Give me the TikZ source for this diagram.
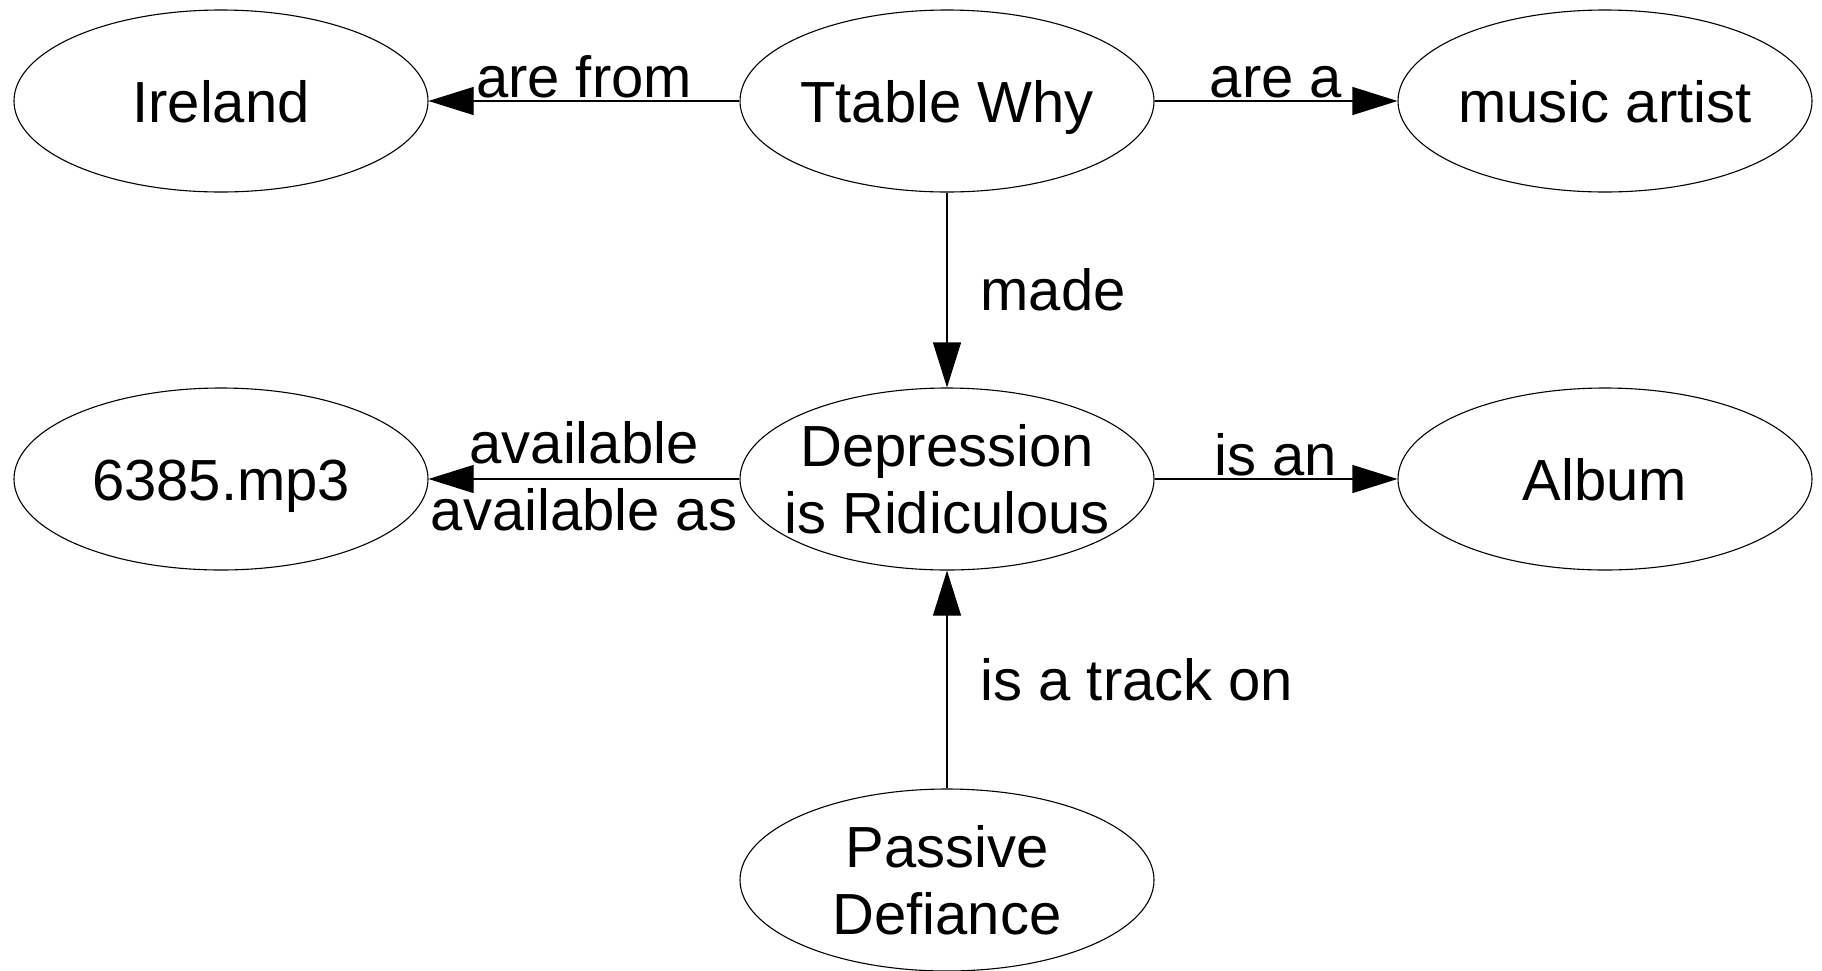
\documentclass[tikz,border=0pt]{standalone}
\usepackage{fontspec}
\setmainfont{Liberation Sans}
\usetikzlibrary{shapes.geometric,arrows.meta}
\newcommand\cbx[1]{\makebox[0pt]{#1}}
\begin{document}
\begin{tikzpicture}[x=1pt,y=-1pt,
  ent/.style={draw, line width=1.1pt, ellipse, minimum width=414pt, minimum height=182pt,
    inner sep=0pt, align=center, font=\fontsize{58}{67}\selectfont,
    text height=42pt, text depth=0pt},
  enttwo/.style={ent, text height=109pt, text depth=1pt},
  rel/.style={line width=1.1pt, -{Triangle[length=45pt,width=28pt]}},
  lbl/.style={inner sep=0pt, align=center, font=\fontsize{58}{67}\selectfont}
]
\useasboundingbox (0,0) rectangle (1822,970);
\node[ent] (ire) at (221,101) {\cbx{Ireland}};
\node[ent] (tw) at (947,101) {\cbx{Ttable Why}};
\node[ent] (mus) at (1605,101) {\cbx{music artist}};
\node[ent] (mp3) at (221,479) {\cbx{6385.mp3}};
\node[enttwo] (dep) at (947,479) {\cbx{Depression}\\\cbx{is Ridiculous}};
\node[ent] (alb) at (1605,479) {\cbx{Album}};
\node[enttwo] (pas) at (947,880) {\cbx{Passive}\\\cbx{Defiance}};

\draw[rel] (tw) -- node[lbl, anchor=base, yshift=4pt] {are from} (ire);
\draw[rel] (tw) -- node[lbl, anchor=base, yshift=4pt] {are a} (mus);
\draw[rel] (tw) -- node[lbl, anchor=base west, xshift=33pt, yshift=-20pt] {made} (dep);
\draw[rel] (dep) -- node[lbl, anchor=base, yshift=-51pt] {available\\available as} (mp3);
\draw[rel] (dep) -- node[lbl, anchor=base, yshift=4pt] {is an} (alb);
\draw[rel] (pas) -- node[lbl, anchor=base west, xshift=33pt, yshift=-21pt] {is a track on} (dep);
\end{tikzpicture}
\end{document}
